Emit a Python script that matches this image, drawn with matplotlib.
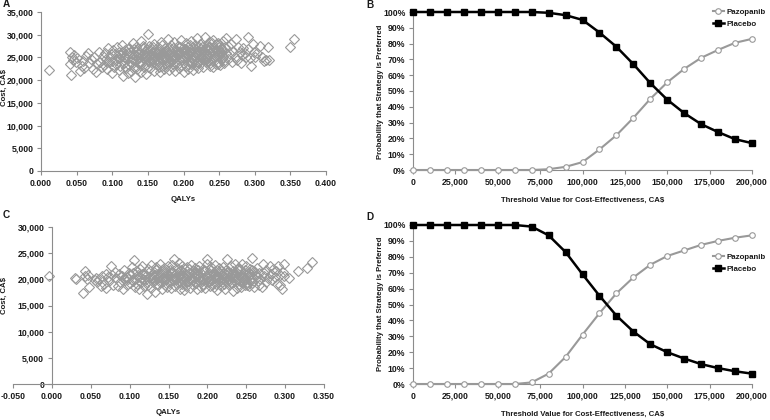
import matplotlib
matplotlib.use("Agg")
import matplotlib.pyplot as plt
from matplotlib.ticker import FuncFormatter, MultipleLocator

plt.rcParams["font.family"] = ["Liberation Sans", "DejaVu Sans"]
plt.rcParams["font.weight"] = "bold"

# --- panel A: incremental scatter (QALYs, cost in thousands CA$)
a_pts = [
    (0.011, 22.2), (0.040, 23.6), (0.041, 26.1), (0.042, 21.2), (0.043, 25.1), (0.045, 24.4),
    (0.047, 25.6), (0.049, 23.9), (0.051, 24.9), (0.055, 22.0), (0.057, 23.2), (0.059, 24.3),
    (0.061, 22.7), (0.063, 25.3), (0.066, 25.9), (0.068, 23.7), (0.070, 24.6), (0.073, 22.4),
    (0.075, 25.1), (0.077, 21.9), (0.079, 23.5), (0.081, 26.2), (0.083, 24.1), (0.085, 22.8),
    (0.087, 25.4), (0.088, 23.3), (0.090, 26.0), (0.091, 24.6), (0.093, 22.5), (0.094, 27.1),
    (0.096, 23.9), (0.097, 25.2), (0.099, 21.5), (0.100, 24.3), (0.101, 26.6), (0.102, 22.9),
    (0.104, 25.8), (0.105, 23.6), (0.106, 27.4), (0.108, 24.9), (0.109, 22.2), (0.110, 26.1),
    (0.111, 23.1), (0.112, 25.5), (0.113, 24.2), (0.114, 27.8), (0.115, 21.0), (0.116, 25.0),
    (0.117, 23.8), (0.118, 26.7), (0.119, 22.6), (0.120, 24.7), (0.121, 25.9), (0.122, 21.6),
    (0.123, 27.0), (0.124, 23.4), (0.125, 26.3), (0.126, 24.0), (0.127, 22.0),
    (0.128, 25.1), (0.129, 28.2), (0.130, 23.0), (0.131, 26.8), (0.132, 20.7), (0.133, 24.5),
    (0.134, 27.3), (0.135, 22.4), (0.136, 25.7), (0.137, 23.7), (0.138, 26.2), (0.139, 24.1),
    (0.140, 28.6), (0.141, 21.8), (0.142, 25.3), (0.143, 27.0), (0.144, 22.9), (0.145, 24.8),
    (0.146, 26.5), (0.147, 23.3), (0.148, 21.4), (0.149, 25.9), (0.150, 30.2), (0.151, 24.2),
    (0.152, 27.6), (0.153, 22.6), (0.154, 25.5), (0.155, 23.9), (0.156, 26.9), (0.157, 24.6),
    (0.158, 22.1), (0.159, 28.0), (0.160, 25.0), (0.161, 23.5), (0.162, 26.4), (0.163, 24.3),
    (0.164, 27.4), (0.165, 22.8), (0.166, 25.8), (0.167, 21.9), (0.168, 24.9), (0.169, 28.4),
    (0.170, 23.2), (0.171, 26.0), (0.172, 25.2), (0.173, 22.5), (0.174, 27.1), (0.175, 24.4),
    (0.176, 26.7), (0.177, 23.6), (0.178, 29.0), (0.179, 25.6), (0.180, 22.3), (0.181, 24.0),
    (0.182, 27.8), (0.183, 26.1), (0.184, 23.0), (0.185, 25.3), (0.186, 28.3), (0.187, 24.7),
    (0.188, 22.0), (0.189, 26.6), (0.190, 23.8), (0.191, 25.9), (0.192, 27.5), (0.193, 24.5),
    (0.194, 22.7), (0.195, 26.3), (0.196, 28.8), (0.197, 23.4), (0.198, 25.4), (0.199, 27.0),
    (0.200, 21.9), (0.201, 24.8), (0.202, 26.8), (0.203, 23.1), (0.204, 28.1), (0.205, 25.7),
    (0.206, 22.4), (0.207, 27.3), (0.208, 24.2), (0.209, 26.2), (0.210, 23.6), (0.211, 28.7),
    (0.212, 25.1), (0.213, 22.2), (0.214, 26.9), (0.215, 24.6), (0.216, 27.7), (0.217, 23.3),
    (0.218, 25.8), (0.219, 29.2), (0.220, 24.0), (0.221, 22.6), (0.222, 26.4), (0.223, 28.0),
    (0.224, 25.0), (0.225, 23.7), (0.226, 27.2), (0.227, 24.9), (0.228, 22.9), (0.229, 26.0),
    (0.230, 29.5), (0.231, 25.5), (0.232, 23.9), (0.233, 27.6), (0.234, 24.3), (0.235, 26.7),
    (0.236, 28.4), (0.237, 23.2), (0.238, 25.9), (0.239, 27.0), (0.240, 24.5), (0.241, 22.8),
    (0.242, 28.9), (0.243, 26.1), (0.244, 25.3), (0.245, 23.5), (0.246, 27.9), (0.247, 26.5),
    (0.248, 24.1), (0.249, 28.2), (0.250, 25.6), (0.251, 23.3), (0.252, 27.1), (0.253, 26.3),
    (0.254, 24.7), (0.255, 28.6), (0.256, 25.2), (0.257, 23.8), (0.258, 27.4), (0.259, 26.0),
    (0.260, 29.2),
    (0.132, 25.6), (0.138, 24.8), (0.144, 26.0), (0.150, 25.3), (0.156, 24.6), (0.162, 25.9),
    (0.168, 26.3), (0.174, 25.4), (0.180, 26.0), (0.186, 24.9), (0.192, 25.6), (0.198, 26.3),
    (0.204, 25.1), (0.210, 26.5), (0.216, 25.3), (0.222, 25.8), (0.228, 26.6), (0.234, 25.6),
    (0.240, 26.4), (0.246, 25.4), (0.252, 26.0), (0.135, 26.6), (0.141, 24.0), (0.147, 25.0),
    (0.153, 26.7), (0.159, 24.2), (0.165, 25.2), (0.171, 24.7), (0.177, 25.9), (0.183, 24.6),
    (0.189, 25.2), (0.195, 24.8), (0.201, 26.1), (0.207, 25.5), (0.213, 24.5), (0.219, 26.2),
    (0.225, 26.9), (0.231, 24.6), (0.237, 26.3), (0.243, 27.3), (0.249, 25.7), (0.255, 26.4),
    (0.1285, 24.4), (0.1335, 26.1), (0.1395, 23.4), (0.1425, 27.5), (0.1455, 25.6), (0.1505, 22.8),
    (0.1535, 24.9), (0.1575, 27.2), (0.1605, 23.8), (0.1635, 26.0), (0.1665, 24.1), (0.1705, 27.7),
    (0.1735, 25.9), (0.1765, 23.1), (0.1795, 26.9), (0.1825, 24.3), (0.1855, 27.1), (0.1885, 25.0),
    (0.1915, 23.3), (0.1945, 27.3), (0.1975, 24.6), (0.2005, 26.7), (0.2035, 25.3), (0.2065, 23.5),
    (0.2095, 27.8), (0.2125, 24.0), (0.2155, 26.1), (0.2185, 23.9), (0.2215, 27.4), (0.2245, 26.3),
    (0.2275, 24.4), (0.2305, 27.0), (0.2335, 25.2), (0.2365, 23.7), (0.2395, 28.1), (0.2425, 24.9),
    (0.2455, 26.6), (0.2485, 23.6), (0.2515, 27.5), (0.2545, 25.5), (0.2575, 24.3), (0.1185, 25.1),
    (0.1225, 26.9), (0.1105, 24.8), (0.1045, 24.4), (0.0985, 25.7), (0.0925, 23.9), (0.1155, 26.2),
    (0.1365, 25.2), (0.1485, 26.8), (0.1555, 25.9), (0.1685, 25.6), (0.1745, 26.5), (0.1905, 26.4),
    (0.1955, 25.9), (0.2055, 26.6), (0.2175, 26.9), (0.2265, 25.5), (0.2355, 27.2), (0.2445, 25.9),
    (0.2535, 26.9),
    (0.262, 24.6), (0.263, 27.6), (0.265, 25.8), (0.267, 28.0), (0.268, 23.9), (0.270, 26.5),
    (0.272, 25.1), (0.274, 29.1), (0.275, 24.4), (0.277, 27.3), (0.279, 26.2), (0.280, 23.8),
    (0.282, 25.6), (0.284, 27.0), (0.286, 26.0), (0.288, 25.2), (0.290, 29.6), (0.291, 26.9),
    (0.293, 24.8), (0.295, 23.2), (0.297, 27.9), (0.299, 26.2), (0.300, 25.0), (0.303, 26.0),
    (0.308, 27.6), (0.310, 25.0), (0.313, 24.2), (0.316, 24.5), (0.318, 27.2), (0.320, 24.4),
    (0.349, 27.2), (0.355, 29.0),
]

# --- panel C: second scenario scatter
c_pts = [
    (-0.004, 20.7), (0.030, 20.3), (0.031, 20.1), (0.040, 17.3), (0.042, 20.6), (0.043, 21.6),
    (0.045, 20.0), (0.046, 20.9), (0.048, 18.6), (0.055, 19.8), (0.057, 20.3), (0.058, 19.4),
    (0.060, 20.1), (0.063, 18.7), (0.065, 20.6), (0.067, 19.2), (0.069, 21.1), (0.070, 18.3),
    (0.072, 20.4), (0.074, 19.7), (0.076, 22.5), (0.077, 20.9), (0.079, 19.0), (0.081, 21.4),
    (0.083, 20.2), (0.085, 18.8), (0.086, 21.0), (0.088, 19.5), (0.090, 20.7), (0.091, 18.1),
    (0.093, 21.8), (0.094, 19.9), (0.096, 20.5), (0.097, 18.9), (0.099, 21.3), (0.100, 19.3),
    (0.101, 20.8), (0.103, 22.4), (0.104, 19.6), (0.105, 23.7), (0.106, 20.1), (0.107, 18.5),
    (0.108, 21.5), (0.110, 19.1), (0.111, 20.9), (0.112, 18.2), (0.113, 21.9), (0.114, 20.3),
    (0.115, 19.4), (0.116, 22.6), (0.117, 20.0), (0.118, 18.7), (0.119, 21.2), (0.120, 19.8),
    (0.121, 20.6), (0.122, 17.2), (0.123, 22.0), (0.124, 19.0), (0.125, 20.4), (0.126, 21.6),
    (0.127, 18.4), (0.128, 22.8), (0.129, 20.2), (0.130, 19.5), (0.131, 21.4), (0.132, 17.6),
    (0.133, 20.8), (0.134, 22.3), (0.135, 19.2), (0.136, 21.0), (0.137, 18.9), (0.138, 20.5),
    (0.139, 22.9), (0.140, 19.7), (0.141, 21.7), (0.142, 18.1), (0.143, 20.3), (0.144, 22.1),
    (0.145, 19.0), (0.146, 21.3), (0.147, 20.0), (0.148, 18.6), (0.149, 22.5), (0.150, 20.7),
    (0.151, 19.3), (0.152, 21.8), (0.153, 18.3), (0.154, 20.1), (0.155, 22.7), (0.156, 19.8),
    (0.157, 23.8), (0.158, 21.1), (0.159, 18.8), (0.160, 20.4), (0.161, 22.2), (0.162, 19.5),
    (0.163, 23.2), (0.164, 21.5), (0.165, 18.2), (0.166, 20.9), (0.167, 22.6), (0.168, 19.1),
    (0.169, 20.6), (0.170, 17.9), (0.171, 21.9), (0.172, 20.2), (0.173, 18.7), (0.174, 22.4),
    (0.175, 19.6), (0.176, 21.2), (0.177, 20.0), (0.178, 18.4), (0.179, 22.8), (0.180, 19.9),
    (0.181, 21.6), (0.182, 18.9), (0.183, 20.5), (0.184, 22.2), (0.185, 19.3), (0.186, 21.0),
    (0.187, 18.1), (0.188, 20.8), (0.189, 22.5), (0.190, 19.7), (0.191, 21.4), (0.192, 18.6),
    (0.193, 20.3), (0.194, 22.0), (0.195, 19.0), (0.196, 21.7), (0.197, 18.3), (0.198, 20.7),
    (0.199, 22.9), (0.200, 23.9), (0.201, 19.4), (0.202, 21.3), (0.203, 18.8), (0.204, 20.1),
    (0.205, 22.3), (0.206, 19.8), (0.207, 21.1), (0.208, 18.5), (0.209, 20.6), (0.210, 22.7),
    (0.211, 19.2), (0.212, 21.8), (0.213, 18.0), (0.214, 20.4), (0.215, 22.1), (0.216, 19.6),
    (0.217, 21.5), (0.218, 18.7), (0.219, 20.9), (0.220, 22.4), (0.221, 19.1), (0.222, 21.2),
    (0.223, 18.2), (0.224, 20.2), (0.225, 23.8), (0.226, 19.9), (0.227, 21.6), (0.228, 18.9),
    (0.229, 20.7), (0.230, 22.6), (0.231, 19.4), (0.232, 21.0), (0.233, 17.8), (0.234, 20.5),
    (0.235, 22.9), (0.236, 19.7), (0.237, 21.4), (0.238, 18.4), (0.239, 20.0), (0.240, 22.2),
    (0.241, 19.2), (0.242, 21.9), (0.243, 18.6), (0.244, 20.8), (0.245, 23.0), (0.246, 19.5),
    (0.247, 21.3), (0.248, 18.9), (0.249, 20.3), (0.250, 22.5), (0.251, 19.0), (0.252, 21.1),
    (0.253, 18.7), (0.254, 20.6), (0.255, 22.0), (0.256, 19.8), (0.257, 21.7), (0.258, 24.1),
    (0.259, 20.2), (0.260, 18.5),
    (0.130, 20.6), (0.136, 20.2), (0.142, 21.0), (0.148, 20.4), (0.154, 21.2), (0.160, 20.0),
    (0.166, 20.5), (0.172, 21.1), (0.178, 20.3), (0.184, 20.9), (0.190, 20.6), (0.196, 20.2),
    (0.202, 20.8), (0.208, 21.3), (0.214, 20.7), (0.220, 20.1), (0.226, 21.0), (0.232, 20.4),
    (0.238, 21.2), (0.244, 20.5), (0.250, 20.9), (0.256, 20.3), (0.133, 19.8), (0.139, 21.4),
    (0.145, 20.1), (0.151, 20.9), (0.157, 19.9), (0.163, 21.0), (0.169, 19.6), (0.175, 20.7),
    (0.181, 19.9), (0.187, 21.3), (0.193, 19.7), (0.199, 20.4), (0.205, 19.9), (0.211, 20.5),
    (0.217, 20.0), (0.223, 21.1), (0.229, 19.8), (0.235, 20.6), (0.241, 20.2), (0.247, 19.9),
    (0.253, 21.4),
    (0.1285, 20.9), (0.1335, 21.9), (0.1395, 19.4), (0.1425, 20.0), (0.1455, 21.6), (0.1505, 19.6),
    (0.1535, 21.4), (0.1575, 20.3), (0.1605, 19.2), (0.1635, 20.6), (0.1665, 21.8), (0.1705, 20.4),
    (0.1735, 19.4), (0.1765, 21.9), (0.1795, 20.1), (0.1825, 21.3), (0.1855, 19.5), (0.1885, 21.7),
    (0.1915, 20.0), (0.1945, 19.2), (0.1975, 21.5), (0.2005, 20.3), (0.2035, 21.9), (0.2065, 19.3),
    (0.2095, 21.6), (0.2125, 19.9), (0.2155, 21.2), (0.2185, 19.4), (0.2215, 20.6), (0.2245, 21.8),
    (0.2275, 20.2), (0.2305, 19.3), (0.2335, 21.5), (0.2365, 20.1), (0.2395, 21.9), (0.2425, 19.6),
    (0.2455, 20.7), (0.2485, 21.8), (0.2515, 19.5), (0.2545, 21.0), (0.2575, 19.3), (0.1185, 20.8),
    (0.1225, 19.5), (0.1105, 20.4), (0.1045, 21.2), (0.0985, 20.0), (0.0925, 20.3), (0.1155, 21.1),
    (0.2605, 21.5), (0.2635, 20.4), (0.2665, 19.0), (0.2725, 21.2),
    (0.262, 20.8), (0.264, 22.2), (0.265, 19.6), (0.267, 21.3), (0.268, 20.0), (0.270, 18.5),
    (0.271, 22.9), (0.273, 20.6), (0.275, 21.8), (0.276, 19.4), (0.278, 20.3), (0.280, 22.5),
    (0.282, 21.0), (0.283, 19.8), (0.285, 22.0), (0.287, 20.5), (0.288, 21.6), (0.290, 19.2),
    (0.291, 22.6), (0.293, 20.8), (0.294, 18.9), (0.296, 18.1), (0.297, 21.4), (0.298, 23.0),
    (0.299, 20.6), (0.305, 20.2), (0.317, 21.5), (0.328, 22.2), (0.334, 23.3),
]

# --- acceptability curves (%), thresholds CA$
thresholds = [0, 10000, 20000, 30000, 40000, 50000, 60000, 70000, 80000, 90000, 100000,
              110000, 120000, 130000, 140000, 150000, 160000, 170000, 180000, 190000, 200000]
b_pazopanib = [0, 0, 0, 0, 0, 0, 0, 0, 0.5, 2, 5, 13, 22, 33, 45, 55.5, 64, 71, 76, 80.5, 83]
b_placebo = [100, 100, 100, 100, 100, 100, 100, 100, 99.5, 98, 95, 87, 78, 67, 55, 44.5, 36, 29, 24, 19.5, 17]
d_pazopanib = [0, 0, 0, 0, 0, 0, 0, 1, 6.5, 17, 31, 44.5, 57, 67, 75, 80.5, 84, 87.5, 90, 92, 93.5]
d_placebo = [100, 100, 100, 100, 100, 100, 100, 99, 93.5, 83, 69, 55.5, 43, 33, 25, 20, 16, 12.5, 10, 8, 6.5]

GREY = "#999999"
AXIS = "#8c8c8c"
TXT = "#1a1a1a"
W, H = 770, 420
TICK_FS = 6.3
LABEL_FS = 5.6


def box(l, r, t, b):
    return [l / W, 1 - b / H, (r - l) / W, (b - t) / H]


def style(ax):
    for s in ["top", "right"]:
        ax.spines[s].set_visible(False)
    for s in ["left", "bottom"]:
        ax.spines[s].set_color(AXIS)
        ax.spines[s].set_linewidth(0.8)
    ax.tick_params(colors=AXIS, labelcolor=TXT, labelsize=TICK_FS, length=3, width=0.8, pad=2.5)


def scatter_panel(ax, pts, xlim, ylim):
    xs = [p[0] for p in pts]
    ys = [p[1] * 1000 for p in pts]
    ax.plot(xs, ys, ls="none", marker="D", ms=4.8, mfc="none", mec=GREY, mew=0.8)
    ax.set_xlim(*xlim)
    ax.set_ylim(*ylim)
    ax.xaxis.set_major_locator(MultipleLocator(0.05))
    ax.yaxis.set_major_locator(MultipleLocator(5000))
    ax.xaxis.set_major_formatter(FuncFormatter(lambda v, p: f"{v:.3f}"))
    ax.yaxis.set_major_formatter(FuncFormatter(lambda v, p: f"{v:,.0f}"))
    ax.set_xlabel("QALYs", fontsize=LABEL_FS, fontweight="bold", color=TXT, labelpad=6)
    style(ax)


def ceac_panel(ax, paz, pla, legend_y):
    ax.plot(thresholds, paz, color=GREY, lw=1.5, marker="o", ms=4, mfc="white",
            mec=GREY, mew=0.8, label="Pazopanib", clip_on=False, zorder=3)
    ax.plot(thresholds, pla, color="black", lw=1.8, marker="s", ms=4,
            label="Placebo", clip_on=False, zorder=4)
    ax.set_xlim(0, 200000)
    ax.set_ylim(0, 100)
    ax.set_xticks(range(0, 200001, 25000))
    ax.yaxis.set_major_locator(MultipleLocator(10))
    ax.xaxis.set_major_formatter(FuncFormatter(lambda v, p: f"{v:,.0f}"))
    ax.yaxis.set_major_formatter(FuncFormatter(lambda v, p: f"{v:.0f}%"))
    ax.set_xlabel("Threshold Value for Cost-Effectiveness, CA$", fontsize=LABEL_FS,
                  fontweight="bold", color=TXT, labelpad=7)
    style(ax)
    leg = ax.legend(loc="center left", bbox_to_anchor=(0.886, legend_y), frameon=False,
                    prop={"size": 5.7, "weight": "bold"}, handlelength=1.3,
                    handletextpad=0.3, labelspacing=0.6, borderaxespad=0, borderpad=0)
    for t in leg.get_texts():
        t.set_color(TXT)


fig = plt.figure(figsize=(7.7, 4.2), dpi=100)

ax_a = fig.add_axes(box(41, 326, 12, 171))
scatter_panel(ax_a, a_pts, (0, 0.4), (0, 35000))

ax_c = fig.add_axes(box(13, 324, 227, 384))
scatter_panel(ax_c, c_pts, (-0.05, 0.35), (0, 30000))
ax_c.spines["left"].set_position(("data", 0))

ax_b = fig.add_axes(box(413, 752, 12, 170))
ceac_panel(ax_b, b_pazopanib, b_placebo, 0.96)

ax_d = fig.add_axes(box(413, 752, 225, 384))
ceac_panel(ax_d, d_pazopanib, d_placebo, 0.76)

# axis titles and panel letters
for y in (88, 295):
    fig.text(4 / W, 1 - y / H, "Cost, CA$", rotation=90, fontsize=LABEL_FS, fontweight="bold",
             color=TXT, ha="center", va="center")
for y in (92, 304):
    fig.text(380 / W, 1 - y / H, "Probability that Strategy is Preferred", rotation=90,
             fontsize=LABEL_FS, fontweight="bold", color=TXT, ha="center", va="center")
for letter, x, y in [("A", 3, 4), ("B", 366, 5), ("C", 3, 215), ("D", 366, 217)]:
    fig.text(x / W, 1 - y / H, letter, fontsize=7.2, fontweight="bold", color=TXT,
             ha="left", va="center")

fig.savefig("out.png", dpi=100)
